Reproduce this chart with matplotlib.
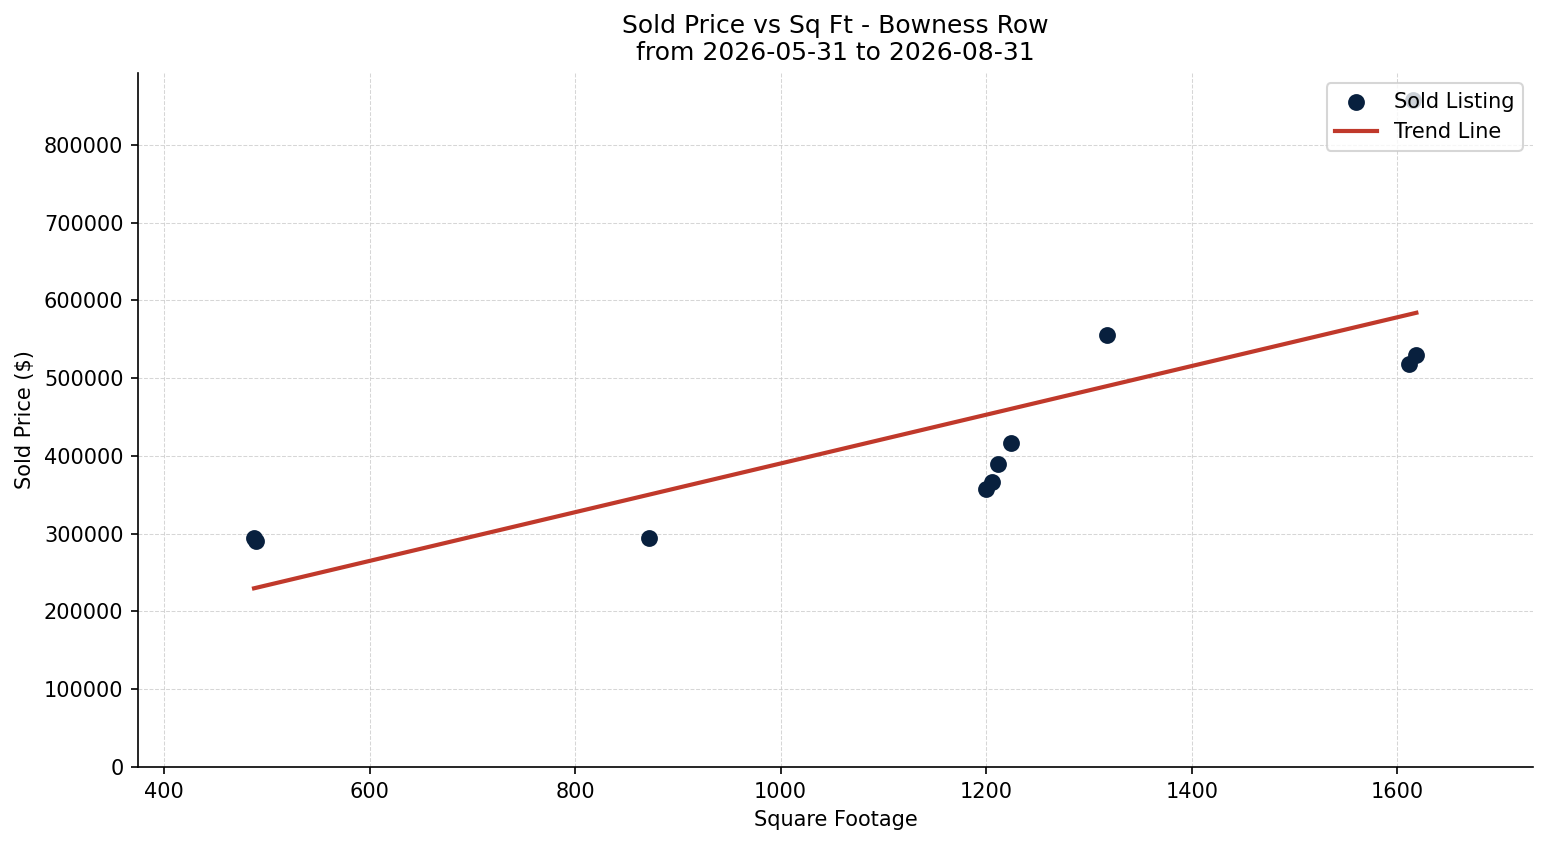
import numpy as np
import matplotlib
matplotlib.use("Agg")
import matplotlib.pyplot as plt

sqft = [487.6, 489.5, 872, 1200, 1206, 1211.7, 1224, 1317.8, 1611.7, 1618.5, 1615.6]
price = [295000, 290000, 295000, 358000, 367000, 390000, 417000, 556000, 518000, 530000, 858000]
title = "Sold Price vs Sq Ft - Bowness Row\nfrom 2026-05-31 to 2026-08-31"

x = np.array(sqft)
y = np.array(price)

fig = plt.figure(figsize=(1547/150, 845/150), dpi=150)
ax = fig.add_axes([138/1547, 1-767/845, (1533-138)/1547, (767-73)/845])

ax.scatter(x, y, s=50, color="#08203e", label="Sold Listing", zorder=3)
m, b = np.polyfit(x, y, 1)
xs = np.array([x.min(), x.max()])
ax.plot(xs, m*xs + b, color="#c0392b", linewidth=2, label="Trend Line", zorder=2)

ax.set_xlim(374.7, 1732)
ax.set_ylim(0, y.max()*1.04)
ax.set_title(title, fontsize=12)
ax.set_xlabel("Square Footage")
ax.set_ylabel("Sold Price ($)")
ax.grid(True, linestyle="--", linewidth=0.5, color="#cccccc", alpha=0.8)
ax.set_axisbelow(True)
ax.spines["top"].set_visible(False)
ax.spines["right"].set_visible(False)
ax.legend(loc="upper right")

fig.savefig("out.png", dpi=150)
